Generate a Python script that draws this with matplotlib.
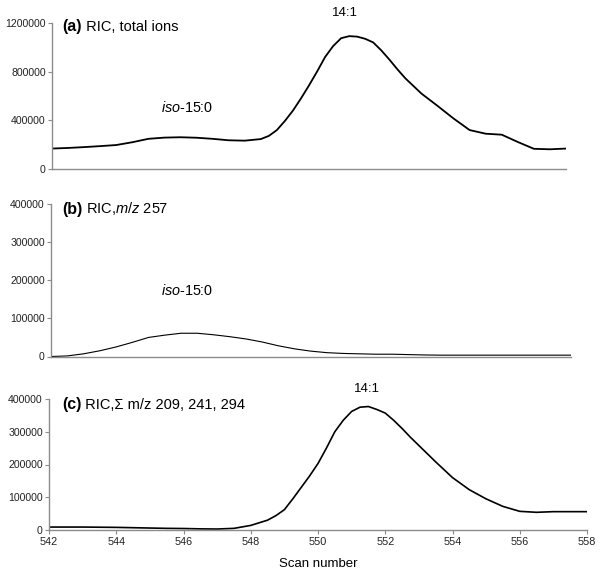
import matplotlib
matplotlib.use("Agg")
import matplotlib.pyplot as plt

plt.rcParams['font.family'] = ['Liberation Sans', 'DejaVu Sans']
plt.rcParams['mathtext.fontset'] = 'custom'
plt.rcParams['mathtext.rm'] = 'Liberation Sans'
plt.rcParams['mathtext.it'] = 'Liberation Sans:italic'
plt.rcParams['mathtext.bf'] = 'Liberation Sans:bold'

# ---- data ----
scan_a = [542, 542.5, 543, 543.5, 544, 544.5, 545, 545.5, 546, 546.5, 547, 547.5,
          548, 548.5, 548.75, 549, 549.25, 549.5, 549.75, 550, 550.25, 550.5, 550.75,
          551, 551.25, 551.5, 551.75, 552, 552.25, 552.5, 552.75, 553, 553.5, 554,
          554.5, 555, 555.5, 556, 556.5, 557, 557.5, 558]
tic = [168000, 173000, 180000, 188000, 197000, 220000, 248000, 258000, 261000, 257000,
       248000, 236000, 233000, 246000, 272000, 320000, 395000, 480000, 580000, 687000,
       800000, 920000, 1010000, 1075000, 1092000, 1088000, 1070000, 1040000, 975000,
       900000, 820000, 745000, 620000, 519000, 415000, 320000, 290000, 282000, 222000,
       166000, 162000, 168000]

scan_b = [542, 542.5, 543, 543.5, 544, 544.5, 545, 545.5, 546, 546.5, 547, 547.5,
          548, 548.5, 549, 549.5, 550, 550.5, 551, 551.5, 552, 552.5, 553, 553.5,
          554, 555, 556, 557, 558]
mz257 = [0, 1500, 7000, 15000, 25000, 37000, 50000, 56000, 61000, 61000, 57000, 52000,
         46000, 38000, 28000, 20000, 14000, 10000, 8000, 7000, 6000, 6000, 5000, 4000,
         3500, 3500, 3500, 3500, 3500]

scan_c = [542, 542.5, 543, 543.5, 544, 544.5, 545, 545.5, 546, 546.5, 547, 547.5,
          548, 548.5, 548.75, 549, 549.25, 549.5, 549.75, 550, 550.25, 550.5, 550.75,
          551, 551.25, 551.5, 551.75, 552, 552.25, 552.5, 552.75, 553, 553.5, 554,
          554.5, 555, 555.5, 556, 556.5, 557, 557.5, 558]
mz_sum = [9000, 9000, 9000, 8500, 8000, 7000, 6000, 5000, 4500, 3500, 3000, 5000,
          14000, 30000, 44000, 62000, 95000, 130000, 165000, 203000, 250000, 300000,
          335000, 362000, 375000, 377000, 368000, 357000, 335000, 310000, 283000, 258000,
          208000, 160000, 123000, 95000, 72000, 57000, 54000, 56000, 56000, 56000]

yticks_a = [0, 400000, 800000, 1200000]
yticks_bc = [0, 100000, 200000, 300000, 400000]
xticks_c = [542, 544, 546, 548, 550, 552, 554, 556, 558]

W, H = 600, 573
fig = plt.figure(figsize=(W / 100, H / 100), dpi=100)

def rect(l, r, b, t):
    return [l / W, 1 - b / H, (r - l) / W, (b - t) / H]

ax_a = fig.add_axes(rect(52, 566, 169, 23))
ax_b = fig.add_axes(rect(51, 571, 356.5, 204))
ax_c = fig.add_axes(rect(49, 587, 530, 399))

grey = '#8c8c8c'
for ax in (ax_a, ax_b, ax_c):
    for s in ('top', 'right'):
        ax.spines[s].set_visible(False)
    for s in ('left', 'bottom'):
        ax.spines[s].set_color(grey)
        ax.spines[s].set_linewidth(1.0)
    ax.set_xlim(542, 558)
    ax.tick_params(axis='y', direction='out', length=3, width=0.8, color=grey,
                   labelsize=7.6, pad=1.5, labelcolor='#222222')
    ax.tick_params(axis='x', direction='out', length=3, width=0.8, color=grey,
                   labelsize=7.8, pad=2, labelcolor='#222222')

ax_a.plot(scan_a, tic, color='black', lw=1.3, solid_joinstyle='round')
ax_a.set_ylim(0, 1200000)
ax_a.set_yticks(yticks_a)
ax_a.set_yticklabels([str(v) for v in yticks_a])
ax_a.set_xticks([])

ax_b.plot(scan_b, mz257, color='black', lw=0.8, solid_joinstyle='round')
ax_b.set_ylim(0, 400000)
ax_b.set_yticks(yticks_bc)
ax_b.set_yticklabels([str(v) for v in yticks_bc])
ax_b.set_xticks([])

ax_c.plot(scan_c, mz_sum, color='black', lw=1.2, solid_joinstyle='round')
ax_c.set_ylim(0, 400000)
ax_c.set_yticks(yticks_bc)
ax_c.set_yticklabels([str(v) for v in yticks_bc])
ax_c.set_xticks(xticks_c)
ax_c.set_xticklabels([str(v) for v in xticks_c])

def ftext(x, y, s, **kw):
    return fig.text(x / W, 1 - y / H, s, **kw)

# panel titles
ta = ftext(62, 31, '(a)', fontsize=11.5, fontweight='bold', va='baseline')
ax_a.annotate(' RIC, total ions', xy=(1, 0), xycoords=ta, va='bottom',
              fontsize=10.5, annotation_clip=False)

tb = ftext(62, 214, '(b)', fontsize=11.5, fontweight='bold', va='baseline')
ax_b.annotate(r' RIC,$\mathit{m/z}$ 257', xy=(1, 0), xycoords=tb, va='bottom',
              fontsize=10.5, annotation_clip=False)

tc = ftext(62, 409, '(c)', fontsize=11.5, fontweight='bold', va='baseline')
ax_c.annotate(' RIC,\u03a3 m/z 209, 241, 294', xy=(1, 0), xycoords=tc, va='bottom',
              fontsize=10.5, annotation_clip=False)

# peak labels
ftext(161, 112, r'$\mathit{iso}$-15:0', fontsize=10.4, va='baseline')
ftext(345, 16, '14:1', fontsize=9.5, ha='center', va='baseline')
ftext(161, 295, r'$\mathit{iso}$-15:0', fontsize=10.4, va='baseline')
ftext(367, 392, '14:1', fontsize=9.5, ha='center', va='baseline')

ftext(318, 567, 'Scan number', fontsize=9.5, ha='center', va='baseline')

fig.savefig('out.png', dpi=100)
